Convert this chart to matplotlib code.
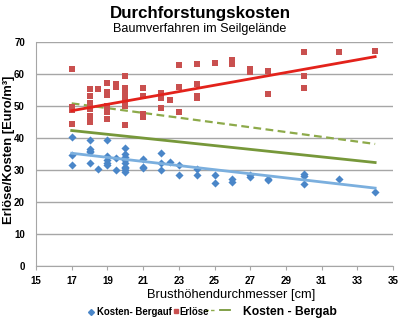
import matplotlib
matplotlib.use("Agg")
import matplotlib.pyplot as plt
from matplotlib.lines import Line2D

# Erlöse (revenue) by breast-height diameter
erl_x = [17, 17, 17, 17,
         18, 18, 18, 18, 18, 18, 18,
         18.5,
         19, 19, 19, 19, 19, 19,
         19.5, 19.5,
         20, 20, 20, 20, 20, 20, 20,
         21, 21, 21, 21,
         22, 22, 22,
         22.5,
         23, 23, 23,
         24, 24, 24, 24,
         25, 26, 26, 27, 27, 28, 28,
         30, 30, 30, 32, 34]
erl_y = [61.6, 49.8, 48.8, 44.4,
         55.3, 53.0, 51.0, 50.0, 49.0, 47.0, 45.0,
         55.3,
         57.3, 54.5, 53.5, 50.0, 48.0, 45.8,
         57.0, 55.8,
         59.2, 55.5, 54.5, 52.5, 51.0, 50.0, 44.0,
         55.7, 53.0, 47.5, 46.5,
         54.0, 52.5, 49.5,
         51.7,
         62.8, 56.0, 48.0,
         63.2, 57.0, 53.0, 52.5,
         63.3, 64.5, 63.0, 61.5, 60.5, 61.0, 53.8,
         66.7, 59.5, 55.5, 66.7, 67.3]

# Kosten bergauf (uphill cost)
berg_x = [17, 17, 17,
          18, 18, 18, 18, 18,
          18.5,
          19, 19, 19, 19, 19,
          19.5, 19.5,
          20, 20, 20, 20, 20, 20, 20, 20, 20,
          21, 21, 21,
          22, 22, 22,
          22.5,
          23, 23,
          24, 24,
          25, 25, 26, 26, 27, 27, 28, 28,
          30, 30, 30, 32, 34]
berg_y = [40.4, 34.5, 31.5,
          39.4, 36.5, 36.0, 35.5, 32.1,
          30.3,
          39.4, 34.3, 33.0, 32.0, 31.6,
          33.7, 30.0,
          36.9, 35.0, 34.0, 33.0, 32.0, 31.0, 30.5, 30.0, 29.3,
          33.5, 31.0, 30.5,
          35.4, 32.0, 30.0,
          32.6,
          31.4, 28.4,
          30.3, 28.5,
          28.3, 25.8, 27.2, 26.1, 28.4, 27.8, 27.2, 26.7,
          28.7, 28.2, 25.5, 27.2, 23.2]

# Linear trend lines (start/end at 17 and 34 cm)
trend_x = [17, 34]
erl_trend = [48.5, 65.4]
berg_trend = [35.2, 24.3]
bergab_dash = [50.8, 38.1]
bergab_solid = [42.3, 32.3]

x_ticks = list(range(15, 36, 2))
y_ticks = list(range(0, 71, 10))

FONT = "Liberation Sans"
blue = "#4A86C8"
red = "#C9504F"
green_dash = "#8DAA4A"
green_solid = "#77983A"

fig = plt.figure(figsize=(4.0, 3.25), dpi=100)
ax = fig.add_axes([0.09, 0.182, 0.8925, 0.689])

ax.scatter(berg_x, berg_y, marker="D", s=17, color=blue, zorder=3, linewidths=0)
ax.scatter(erl_x, erl_y, marker="s", s=24, color=red, zorder=3, linewidths=0)
ax.plot(trend_x, erl_trend, color="#E3221B", lw=2.0, zorder=4)
ax.plot(trend_x, berg_trend, color="#7BAFDE", lw=2.0, zorder=4)
ax.plot(trend_x, bergab_dash, color=green_dash, lw=1.6, ls=(0, (3.5, 2)), zorder=2)
ax.plot(trend_x, bergab_solid, color=green_solid, lw=2.0, zorder=2)

ax.set_xlim(15, 35)
ax.set_ylim(0, 70)
ax.set_xticks(x_ticks)
ax.set_yticks(y_ticks)
ax.yaxis.grid(True, color="#A6A6A6", lw=1.0)
ax.set_axisbelow(True)
for s in ("top", "right"):
    ax.spines[s].set_visible(False)
for s in ("left", "bottom"):
    ax.spines[s].set_color("#A6A6A6")
ax.tick_params(axis="y", length=0, pad=8)
ax.tick_params(axis="x", length=3, color="#A6A6A6", pad=4)
for lab in ax.get_xticklabels() + ax.get_yticklabels():
    lab.set_fontweight("bold")
    lab.set_fontsize(7)
    lab.set_fontfamily(FONT)

ax.set_xlabel("Brusthöhendurchmesser [cm]", fontsize=9.3, fontfamily=FONT)
ax.xaxis.set_label_coords(0.546, -0.13)
ax.xaxis.label.set_va("center")
ax.set_ylabel("Erlöse/Kosten [Euro/m³]", fontsize=9.4, fontweight="bold",
              fontfamily=FONT)
ax.yaxis.set_label_coords(-0.076, 0.518)
ax.yaxis.label.set_va("center")

fig.text(0.5, 0.958, "Durchforstungskosten", ha="center", va="center",
         fontsize=12.2, fontweight="bold", fontfamily=FONT)
fig.text(0.5, 0.91, "Baumverfahren im Seilgelände", ha="center", va="center",
         fontsize=9.1, fontfamily=FONT)

# Legend row below the axis title
ly = 0.04
fig.add_artist(Line2D([0.2275], [ly], marker="D", color=blue, ls="none",
                      markersize=3, transform=fig.transFigure))
fig.text(0.2425, ly, "Kosten- Bergauf", ha="left", va="center",
         fontsize=6.9, fontweight="bold", fontfamily=FONT)
fig.add_artist(Line2D([0.44], [ly + 0.003], marker="s", color=red, ls="none",
                      markersize=3.5, transform=fig.transFigure))
fig.text(0.4475, ly, "Erlöse", ha="left", va="center",
         fontsize=6.9, fontweight="bold", fontfamily=FONT)
fig.add_artist(Line2D([0.5125, 0.5375], [ly + 0.006, ly + 0.006], color=green_dash,
                      lw=1.0, ls=(0, (2.5, 1.5)), transform=fig.transFigure))
fig.add_artist(Line2D([0.55, 0.575], [ly + 0.006, ly + 0.006], color=green_solid,
                      lw=1.3, transform=fig.transFigure))
fig.text(0.6075, ly, "Kosten - Bergab", ha="left", va="center",
         fontsize=8.7, fontweight="bold", fontfamily=FONT)

fig.savefig("out.png", dpi=100)
